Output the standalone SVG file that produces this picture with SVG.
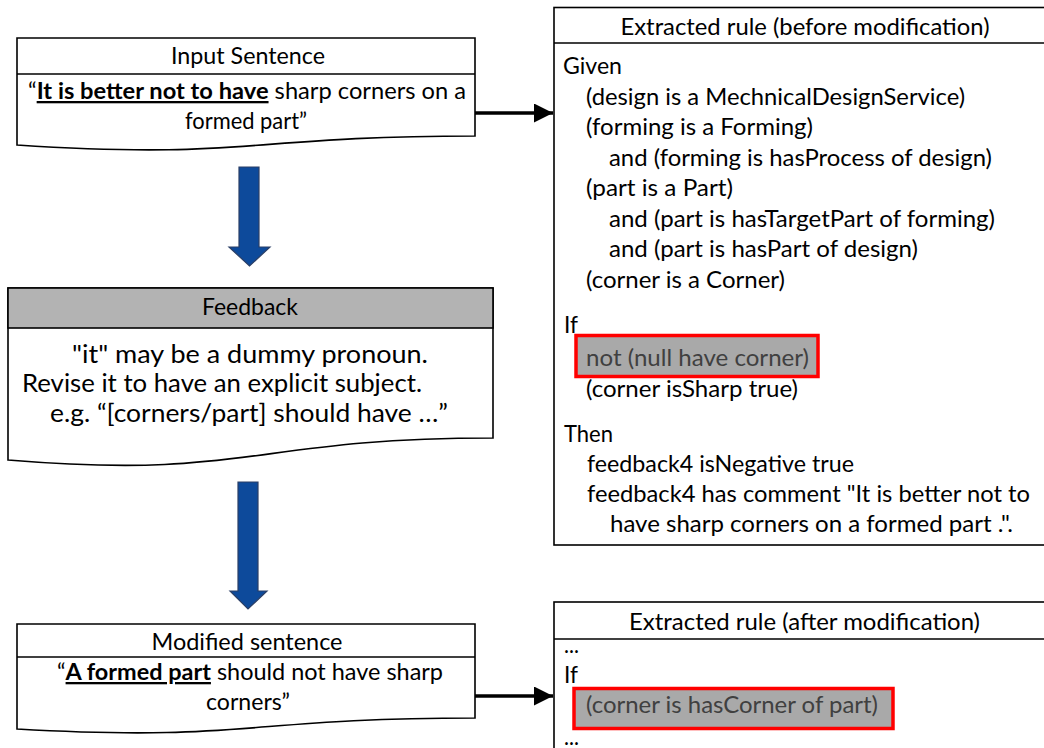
<svg xmlns="http://www.w3.org/2000/svg" width="1044" height="748" viewBox="0 0 1044 748">
  <defs>
    <style>
      .box { fill: #ffffff; stroke: #000000; stroke-width: 1.6; }
      .div { stroke: #000000; stroke-width: 1.6; }
      .t { font-family: Lato, "Liberation Sans", sans-serif; font-size: 23px; fill: #000000; }
      .tf { font-family: Lato, "Liberation Sans", sans-serif; font-size: 25px; fill: #000000; }
      .mid { text-anchor: middle; }
      .hl { fill: #a9a9a9; stroke: #ff0000; stroke-width: 3.5; }
      .hlt { fill: #404040; }
      .blue { fill: #0d4a9b; stroke: #2b3f66; stroke-width: 1.2; }
      .conn { stroke: #000000; stroke-width: 3.3; fill: none; }
      .b { font-weight: bold; text-decoration: underline; }
    </style>
    <marker id="ah" markerWidth="20" markerHeight="19" refX="19" refY="9.5" orient="auto" markerUnits="userSpaceOnUse">
      <path d="M0,0 L19,9.5 L0,19 Z" fill="#000000"/>
    </marker>
  </defs>

  <g id="input-sentence">
    <path class="box" d="M17,38 H475 V136 C246,136 246,160 17,145 Z"/>
    <line class="div" x1="17" y1="74" x2="475" y2="74"/>
    <text class="t mid" x="248" y="64" textLength="154" lengthAdjust="spacingAndGlyphs">Input Sentence</text>
    <text class="t mid" x="247" y="99" textLength="438" lengthAdjust="spacingAndGlyphs">“<tspan class="b">It is better not to have</tspan> sharp corners on a</text>
    <text class="t mid" x="246" y="129" textLength="122" lengthAdjust="spacingAndGlyphs">formed part”</text>
  </g>

  <g id="feedback">
    <path class="box" d="M8,288 H493 V438 C250,438 250,480 8,460 Z"/>
    <rect x="8" y="288" width="485" height="40" fill="#b3b3b3" stroke="#000000" stroke-width="1.6"/>
    <text class="t mid" x="250" y="315" textLength="96" lengthAdjust="spacingAndGlyphs">Feedback</text>
    <text class="tf" x="72" y="363" textLength="356" lengthAdjust="spacingAndGlyphs">"it" may be a dummy pronoun.</text>
    <text class="tf" x="22" y="392" textLength="400" lengthAdjust="spacingAndGlyphs">Revise it to have an explicit subject.</text>
    <text class="tf" x="50" y="422" textLength="398" lengthAdjust="spacingAndGlyphs">e.g. “[corners/part] should have …”</text>
  </g>

  <g id="modified-sentence">
    <path class="box" d="M17,624 H475 V718 C246,718 246,742 17,729 Z"/>
    <line class="div" x1="17" y1="657" x2="475" y2="657"/>
    <text class="t mid" x="247" y="650" textLength="191" lengthAdjust="spacingAndGlyphs">Modified sentence</text>
    <text class="t mid" x="250" y="680" textLength="386" lengthAdjust="spacingAndGlyphs">“<tspan class="b">A formed part</tspan> should not have sharp</text>
    <text class="t mid" x="248" y="710" textLength="84" lengthAdjust="spacingAndGlyphs">corners”</text>
  </g>

  <g id="rule-before">
    <rect class="box" x="554" y="7.5" width="495" height="537.5"/>
    <line class="div" x1="554" y1="43" x2="1049" y2="43"/>
    <text class="t mid" x="805" y="35" textLength="369" lengthAdjust="spacingAndGlyphs">Extracted rule (before modification)</text>
    <text class="t" x="563" y="74" textLength="59" lengthAdjust="spacingAndGlyphs">Given</text>
    <text class="t" x="586" y="104.5" textLength="379" lengthAdjust="spacingAndGlyphs">(design is a MechnicalDesignService)</text>
    <text class="t" x="586" y="135" textLength="227" lengthAdjust="spacingAndGlyphs">(forming is a Forming)</text>
    <text class="t" x="609" y="165.5" textLength="383" lengthAdjust="spacingAndGlyphs">and (forming is hasProcess of design)</text>
    <text class="t" x="586" y="196" textLength="147" lengthAdjust="spacingAndGlyphs">(part is a Part)</text>
    <text class="t" x="609" y="226.5" textLength="386" lengthAdjust="spacingAndGlyphs">and (part is hasTargetPart of forming)</text>
    <text class="t" x="609" y="257" textLength="309" lengthAdjust="spacingAndGlyphs">and (part is hasPart of design)</text>
    <text class="t" x="586" y="287.5" textLength="199" lengthAdjust="spacingAndGlyphs">(corner is a Corner)</text>
    <text class="t" x="564" y="333" textLength="14" lengthAdjust="spacingAndGlyphs">If</text>
    <rect class="hl" x="576" y="335.5" width="242" height="41"/>
    <text class="t hlt" x="586" y="366" textLength="223" lengthAdjust="spacingAndGlyphs">not (null have corner)</text>
    <text class="t" x="586" y="397" textLength="212" lengthAdjust="spacingAndGlyphs">(corner isSharp true)</text>
    <text class="t" x="564" y="442" textLength="49" lengthAdjust="spacingAndGlyphs">Then</text>
    <text class="t" x="587" y="472" textLength="267" lengthAdjust="spacingAndGlyphs">feedback4 isNegative true</text>
    <text class="t" x="587" y="502" textLength="443" lengthAdjust="spacingAndGlyphs">feedback4 has comment "It is better not to</text>
    <text class="t" x="610" y="532" textLength="403" lengthAdjust="spacingAndGlyphs">have sharp corners on a formed part .".</text>
  </g>

  <g id="rule-after">
    <rect class="box" x="554" y="602" width="495" height="160"/>
    <line class="div" x1="554" y1="639" x2="1049" y2="639"/>
    <text class="t mid" x="804.5" y="630" textLength="351" lengthAdjust="spacingAndGlyphs">Extracted rule (after modification)</text>
    <text class="t" x="564" y="653" textLength="15" lengthAdjust="spacingAndGlyphs">...</text>
    <text class="t" x="564" y="683" textLength="14" lengthAdjust="spacingAndGlyphs">If</text>
    <rect class="hl" x="574" y="688.5" width="319" height="40"/>
    <text class="t hlt" x="586" y="713" textLength="292" lengthAdjust="spacingAndGlyphs">(corner is hasCorner of part)</text>
    <text class="t" x="564" y="745" textLength="15" lengthAdjust="spacingAndGlyphs">...</text>
  </g>

  <g id="connectors">
    <line class="conn" x1="475" y1="113" x2="553" y2="113" marker-end="url(#ah)"/>
    <line class="conn" x1="475" y1="696" x2="553" y2="696" marker-end="url(#ah)"/>
    <path class="blue" d="M239,167 H259 V247 H270 L249.5,266 L229,247 H239 Z"/>
    <path class="blue" d="M238,482 H258 V591 H267 L248,609 L230,591 H238 Z"/>
  </g>
</svg>
